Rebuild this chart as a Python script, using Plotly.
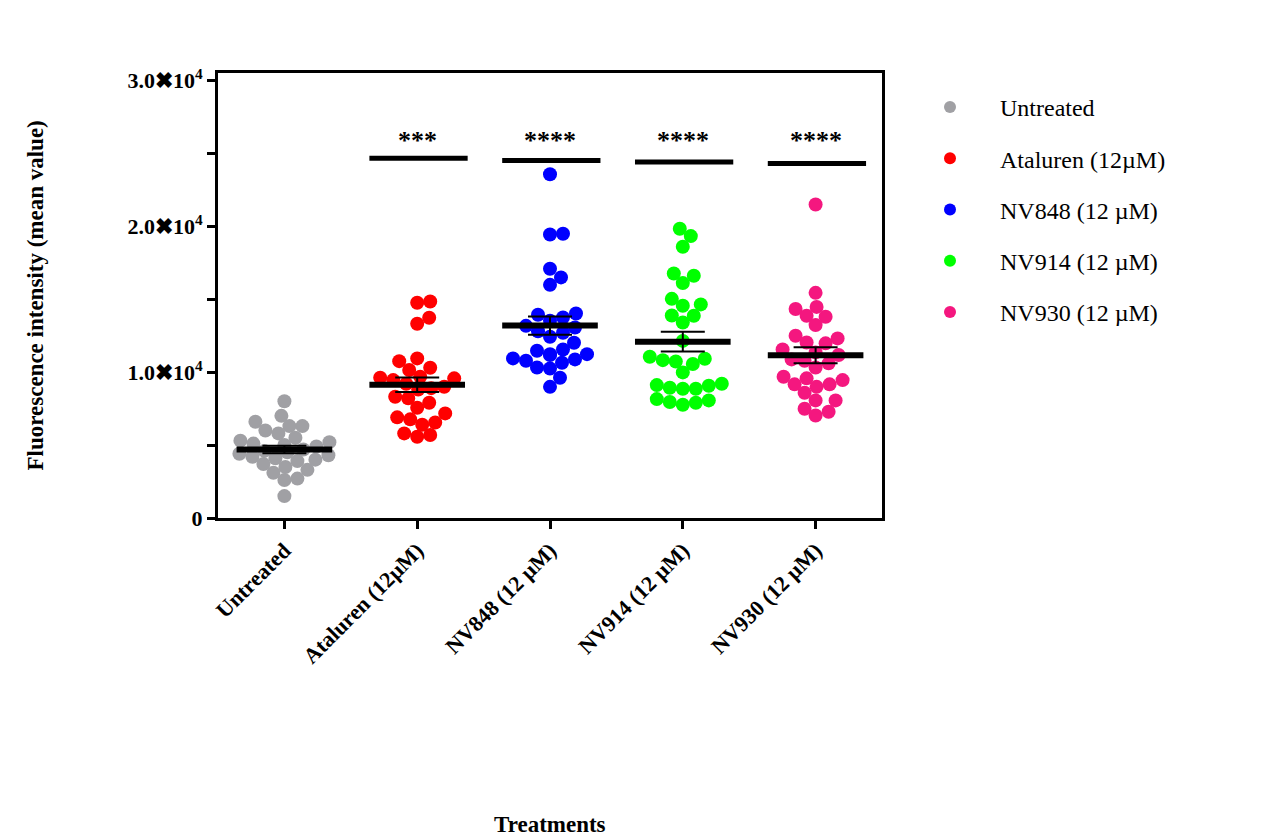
import numpy as np
import plotly.graph_objects as go

categories = ["Untreated", "Ataluren (12µM)", "NV848 (12 µM)", "NV914 (12 µM)", "NV930 (12 µM)"]
colors = ["#A0A0A4", "#FF0000", "#0000FF", "#00FF00", "#F4177F"]

untreated = [8000, 7000, 6600, 6300, 6300, 6000, 5800, 5500, 5300, 5200, 5100, 5000, 4900, 4800,
             4700, 4600, 4500, 4400, 4300, 4200, 4100, 4000, 3900, 3700, 3500, 3300, 3100, 2700, 2600, 1500]
ataluren = [14840, 14750, 13720, 13310, 10940, 10750, 10300, 10140, 9680, 9610, 9570, 9450, 9200, 9000,
            8900, 8800, 8310, 8200, 7900, 7560, 7170, 6900, 6760, 6550, 6390, 5800, 5690, 5570]
nv848 = [23560, 19480, 19430, 17080, 16490, 15980, 14020, 13930, 13750, 13520, 13170, 13060, 12800, 12700,
         12420, 12010, 11550, 11460, 11230, 11230, 11170, 10940, 10870, 10780, 10640, 10320, 10250, 9610, 8990]
nv914 = [19820, 19320, 18590, 16600, 16760, 16100, 15020, 14640, 14550, 13860, 13880, 13400, 12140, 10910,
         10730, 10820, 10550, 11050, 9980, 8860, 9060, 9200, 9110, 8860, 8930, 8150, 7950, 7760, 7900, 8060]
nv930 = [21490, 15430, 14320, 14470, 13790, 13860, 13220, 12490, 12030, 11970, 12310, 11550, 11350, 11170,
         10780, 10320, 10600, 10870, 9570, 9160, 8990, 8580, 9160, 9450, 9680, 8060, 7490, 7030, 7280, 8060]
groups = [untreated, ataluren, nv848, nv914, nv930]

sig_labels = ["", "***", "****", "****", "****"]
sig_line_y = [None, 24650, 24500, 24400, 24300]
sig_text_y = [None, 25900, 25900, 25900, 25900]

y_tickvals = [0, 10000, 20000, 30000]
y_ticktext = ["0", "1.0✖10<sup>4</sup>", "2.0✖10<sup>4</sup>", "3.0✖10<sup>4</sup>"]

# plot geometry (page has an 8px body margin)
W, H = 1268, 830
ML, MR, MT, MB = 210, 394, 65, 320
PW, PH = W - ML - MR, H - MT - MB
YMAX = 30500
px_x = PW / 5.0
px_y = PH / YMAX
DIAM = 14.0


def beeswarm(vals, min_dist=DIAM * 0.92, max_off=48):
    order = np.argsort(vals)
    placed = []
    offs = np.zeros(len(vals))
    cands = [0]
    for k in range(1, max_off + 1):
        cands += [k, -k]
    for idx in order:
        y = vals[idx] * px_y
        best = None
        for c in cands:
            ok = True
            for (px, py) in placed:
                if (px - c) ** 2 + (py - y) ** 2 < min_dist ** 2:
                    ok = False
                    break
            if ok:
                best = c
                break
        if best is None:
            best = 0
        placed.append((best, y))
        offs[idx] = best / px_x
    return offs


fig = go.Figure()
font_fam = "Liberation Serif, Times New Roman, serif"

for i, (name, vals, col) in enumerate(zip(categories, groups, colors)):
    v = np.array(vals, dtype=float)
    offs = beeswarm(v)
    fig.add_trace(go.Scatter(
        x=i + offs, y=v, mode="markers", name=name,
        marker=dict(color=col, size=DIAM, line=dict(width=0)),
        legendgroup=name, showlegend=True,
    ))

for i, vals in enumerate(groups):
    v = np.array(vals, dtype=float)
    m = v.mean()
    sem = v.std(ddof=1) / np.sqrt(len(v))
    fig.add_trace(go.Scatter(
        x=[i], y=[m], mode="markers", marker=dict(size=1, color="rgba(0,0,0,0)"),
        error_y=dict(type="data", array=[sem], color="black", thickness=2, width=22),
        showlegend=False, hoverinfo="skip"))
    fig.add_trace(go.Scatter(
        x=[i - 0.36, i + 0.36], y=[m, m], mode="lines",
        line=dict(color="black", width=6), showlegend=False, hoverinfo="skip"))

for i in range(1, 5):
    fig.add_trace(go.Scatter(
        x=[i - 0.36, i + 0.38], y=[sig_line_y[i], sig_line_y[i]], mode="lines",
        line=dict(color="black", width=5), showlegend=False, hoverinfo="skip"))
    fig.add_annotation(x=i, y=sig_text_y[i], text=sig_labels[i], showarrow=False,
                       font=dict(family=font_fam, size=26, color="black", weight="bold"))

fig.update_xaxes(
    range=[-0.5, 4.5], tickvals=list(range(5)), ticktext=categories, tickangle=-45,
    showline=True, linewidth=3, linecolor="black", mirror=True,
    ticks="outside", ticklen=8, tickwidth=3, tickcolor="black",
    showgrid=False, zeroline=False,
    tickfont=dict(family=font_fam, size=22, color="black", weight="bold"),
)
fig.update_yaxes(
    range=[0, YMAX], tickvals=y_tickvals, ticktext=y_ticktext,
    showline=True, linewidth=3, linecolor="black", mirror=True,
    ticks="outside", ticklen=8, tickwidth=3, tickcolor="black",
    minor=dict(tickvals=[5000, 15000, 25000], ticks="outside", ticklen=8, tickwidth=3, tickcolor="black"),
    showgrid=False, zeroline=False,
    tickfont=dict(family=font_fam, size=22, color="black", weight="bold"),
)

fig.add_annotation(xref="paper", yref="paper", x=(27 - ML) / PW, y=0.5, xanchor="center", yanchor="middle",
                   text="Fluorescence intensity (mean value)", textangle=-90, showarrow=False,
                   font=dict(family=font_fam, size=23, color="black", weight="bold"))
fig.add_annotation(xref="paper", yref="paper", x=(542 - ML) / PW, y=-(817 - (H - MB)) / PH,
                   xanchor="center", yanchor="middle",
                   text="Treatments", showarrow=False,
                   font=dict(family=font_fam, size=23, color="black", weight="bold"))

fig.update_layout(
    width=W, height=H,
    margin=dict(l=ML, r=MR, t=MT, b=MB),
    plot_bgcolor="white", paper_bgcolor="white",
    legend=dict(x=(892 - ML) / PW, y=0.973, xanchor="left", yanchor="top", itemsizing="constant",
                tracegroupgap=17, itemwidth=90,
                font=dict(family=font_fam, size=24, color="black")),
)

fig.write_html("out.html")
